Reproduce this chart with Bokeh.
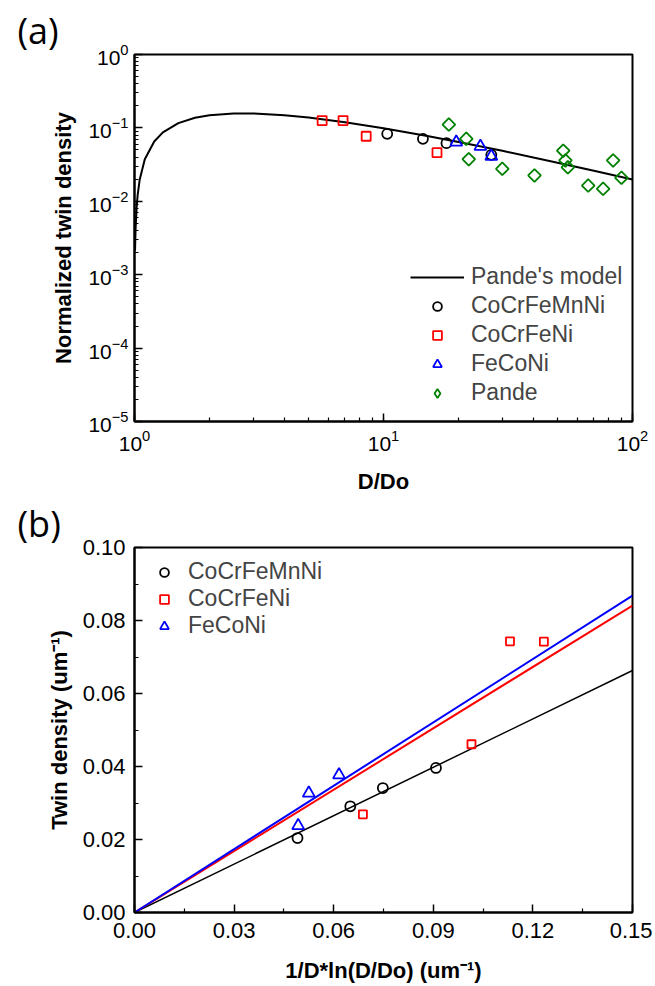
import numpy as np
from bokeh.plotting import figure
from bokeh.layouts import column
from bokeh.models import (FixedTicker, NumeralTickFormatter, Legend, LegendItem,
                          LogTicker, Range1d)
from bokeh.embed import file_html
from bokeh.resources import INLINE

# ---------------- Panel (a) data ----------------
model_x = [1.005, 1.01, 1.02, 1.03, 1.05, 1.1, 1.2, 1.3, 1.5, 1.75, 2.0, 2.5, 3.0,
           4.0, 5.0, 7.0, 10.0, 15.0, 20.0, 30.0, 50.0, 70.0, 100.0]
model_y = [0.00213, 0.00424, 0.00838, 0.01234, 0.0200, 0.0373, 0.0653, 0.0868, 0.1162,
           0.1375, 0.1490, 0.1576, 0.1575, 0.1490, 0.1384, 0.1195, 0.0990, 0.0776,
           0.0644, 0.0487, 0.0336, 0.0261, 0.0198]
a_cocrfemnni_x = [10.35, 14.4, 17.9, 27.1]
a_cocrfemnni_y = [0.083, 0.071, 0.062, 0.043]
a_cocrfeni_x = [5.67, 6.88, 8.52, 16.4]
a_cocrfeni_y = [0.126, 0.126, 0.077, 0.046]
a_feconi_x = [19.6, 24.5, 27.1]
a_feconi_y = [0.064, 0.056, 0.041]
a_pande_x = [18.3, 21.5, 22.0, 30.0, 40.4, 52.7, 53.8, 55.0, 66.4, 76.2, 83.6, 90.3]
a_pande_y = [0.111, 0.071, 0.0375, 0.0277, 0.0225, 0.049, 0.036, 0.029, 0.0164,
             0.0148, 0.036, 0.0209]

# ---------------- Panel (b) data ----------------
b_cocrfemnni_x = [0.0491, 0.0650, 0.0748, 0.0908]
b_cocrfemnni_y = [0.0204, 0.0291, 0.0341, 0.0396]
b_cocrfeni_x = [0.0688, 0.1015, 0.1131, 0.1233]
b_cocrfeni_y = [0.0269, 0.0461, 0.0743, 0.0742]
b_feconi_x = [0.0493, 0.0525, 0.0616]
b_feconi_y = [0.0238, 0.0327, 0.0377]
fit_x = [0.0, 0.15]
fit_cocrfemnni_y = [0.0, 0.0663]
fit_cocrfeni_y = [0.0, 0.0841]
fit_feconi_y = [0.0, 0.0868]

b_xticks = [0.0, 0.03, 0.06, 0.09, 0.12, 0.15]
b_xminor = [0.015, 0.045, 0.075, 0.105, 0.135]
b_yticks = [0.0, 0.02, 0.04, 0.06, 0.08, 0.10]
b_yminor = [0.01, 0.03, 0.05, 0.07, 0.09]

FONT = "Liberation Sans"
RED = "#ff0000"
BLUE = "#0000ff"
GREEN = "#008000"


def style_axis(ax, tick_standoff, label_standoff, tick_size):
    ax.axis_line_width = 2
    ax.axis_line_color = "black"
    ax.major_tick_in = 8
    ax.major_tick_out = 0
    ax.minor_tick_in = 4
    ax.minor_tick_out = 0
    ax.major_tick_line_width = 1.5
    ax.minor_tick_line_width = 1.2
    ax.major_tick_line_color = "black"
    ax.minor_tick_line_color = "black"
    ax.major_label_text_font = FONT
    ax.major_label_text_font_size = tick_size
    ax.major_label_text_color = "black"
    ax.major_label_standoff = tick_standoff
    ax.axis_label_text_font = FONT
    ax.axis_label_text_font_style = "bold"
    ax.axis_label_text_font_size = "22px"
    ax.axis_label_text_color = "black"
    ax.axis_label_standoff = label_standoff


def style_fig(p, panel_text):
    p.xgrid.visible = False
    p.ygrid.visible = False
    p.outline_line_color = "black"
    p.outline_line_width = 2
    p.outline_line_alpha = 1.0
    p.background_fill_color = "white"
    p.border_fill_color = "white"
    p.title.text = panel_text
    p.title.align = "left"
    p.title.offset = -117
    p.title.standoff = 0
    p.title.text_font = "Open Sans"
    p.title.text_font_size = "36px"
    p.title.text_font_style = "normal"
    p.title.text_color = "black"
    p.title.vertical_align = "bottom"


# ---------------- Figure (a) ----------------
pa = figure(frame_width=498, frame_height=367, x_axis_type="log", y_axis_type="log",
            x_range=Range1d(1, 100), y_range=Range1d(1e-5, 1),
            min_border_left=134, min_border_top=54, min_border_right=20,
            min_border_bottom=75, output_backend="svg", toolbar_location=None)
style_fig(pa, "(a)")
pa.xaxis.ticker = LogTicker(mantissas=[1], num_minor_ticks=10)
pa.yaxis.ticker = LogTicker(mantissas=[1], num_minor_ticks=10)
pa.xaxis.axis_label = "D/Do"
pa.yaxis.axis_label = "Normalized twin density"
style_axis(pa.xaxis[0], 8, 15, "21px")
style_axis(pa.yaxis[0], 6, 9, "21px")

r_model = pa.line(model_x, model_y, line_color="black", line_width=2)
r_a1 = pa.scatter(a_cocrfemnni_x, a_cocrfemnni_y, marker="circle", size=10,
                  fill_color=None, line_color="black", line_width=1.8)
r_a2 = pa.scatter(a_cocrfeni_x, a_cocrfeni_y, marker="square", size=9,
                  fill_color=None, line_color=RED, line_width=1.8)
r_a3 = pa.scatter(a_feconi_x, a_feconi_y, marker="triangle", size=12,
                  fill_color=None, line_color=BLUE, line_width=1.8)
r_a4 = pa.scatter(a_pande_x, a_pande_y, marker="square", angle=np.pi / 4, size=9,
                  fill_color=None, line_color=GREEN, line_width=1.8)
# hidden proxy so the legend shows a diamond symbol (legend ignores marker angle)
r_a4_leg = pa.scatter(a_pande_x[:1], a_pande_y[:1], marker="diamond", size=14,
                      fill_color=None, line_color=GREEN, line_width=1.8,
                      visible=False)

leg_a = Legend(items=[LegendItem(label="Pande's model", renderers=[r_model]),
                      LegendItem(label="CoCrFeMnNi", renderers=[r_a1]),
                      LegendItem(label="CoCrFeNi", renderers=[r_a2]),
                      LegendItem(label="FeCoNi", renderers=[r_a3]),
                      LegendItem(label="Pande", renderers=[r_a4_leg])],
               location=(276, 15), background_fill_alpha=0, border_line_alpha=0,
               padding=0, margin=0, spacing=2, label_height=25, glyph_height=22,
               glyph_width=54, label_standoff=7, label_text_font=FONT,
               label_text_font_size="23px", inactive_fill_alpha=0)
pa.add_layout(leg_a)

# ---------------- Figure (b) ----------------
pb = figure(frame_width=498, frame_height=365,
            x_range=Range1d(0, 0.15), y_range=Range1d(0, 0.10),
            min_border_left=133, min_border_top=51, min_border_right=21,
            min_border_bottom=74, output_backend="svg", toolbar_location=None)
style_fig(pb, "(b)")
pb.xaxis.ticker = FixedTicker(ticks=b_xticks, minor_ticks=b_xminor)
pb.yaxis.ticker = FixedTicker(ticks=b_yticks, minor_ticks=b_yminor)
pb.xaxis.formatter = NumeralTickFormatter(format="0.00")
pb.yaxis.formatter = NumeralTickFormatter(format="0.00")
pb.xaxis.axis_label = "1/D*ln(D/Do) (um\u207b\u00b9)"
pb.yaxis.axis_label = "Twin density (um\u207b\u00b9)"
style_axis(pb.xaxis[0], 10, 17, "22px")
style_axis(pb.yaxis[0], 9, 8, "22px")

pb.line(fit_x, fit_cocrfemnni_y, line_color="black", line_width=1.5)
pb.line(fit_x, fit_cocrfeni_y, line_color=RED, line_width=2)
pb.line(fit_x, fit_feconi_y, line_color=BLUE, line_width=2)
r_b1 = pb.scatter(b_cocrfemnni_x, b_cocrfemnni_y, marker="circle", size=10,
                  fill_color=None, line_color="black", line_width=1.8)
r_b2 = pb.scatter(b_cocrfeni_x, b_cocrfeni_y, marker="square", size=8,
                  fill_color=None, line_color=RED, line_width=1.8)
r_b3 = pb.scatter(b_feconi_x, b_feconi_y, marker="triangle", size=12,
                  fill_color=None, line_color=BLUE, line_width=1.8)

leg_b = Legend(items=[LegendItem(label="CoCrFeMnNi", renderers=[r_b1]),
                      LegendItem(label="CoCrFeNi", renderers=[r_b2]),
                      LegendItem(label="FeCoNi", renderers=[r_b3])],
               location=(15, 273), background_fill_alpha=0, border_line_alpha=0,
               padding=0, margin=0, spacing=0, label_height=25, glyph_height=22,
               glyph_width=30, label_standoff=9, label_text_font=FONT,
               label_text_font_size="23px")
pb.add_layout(leg_b)

layout = column(pa, pb, spacing=0)
open("out.html", "w").write(file_html(layout, INLINE))
